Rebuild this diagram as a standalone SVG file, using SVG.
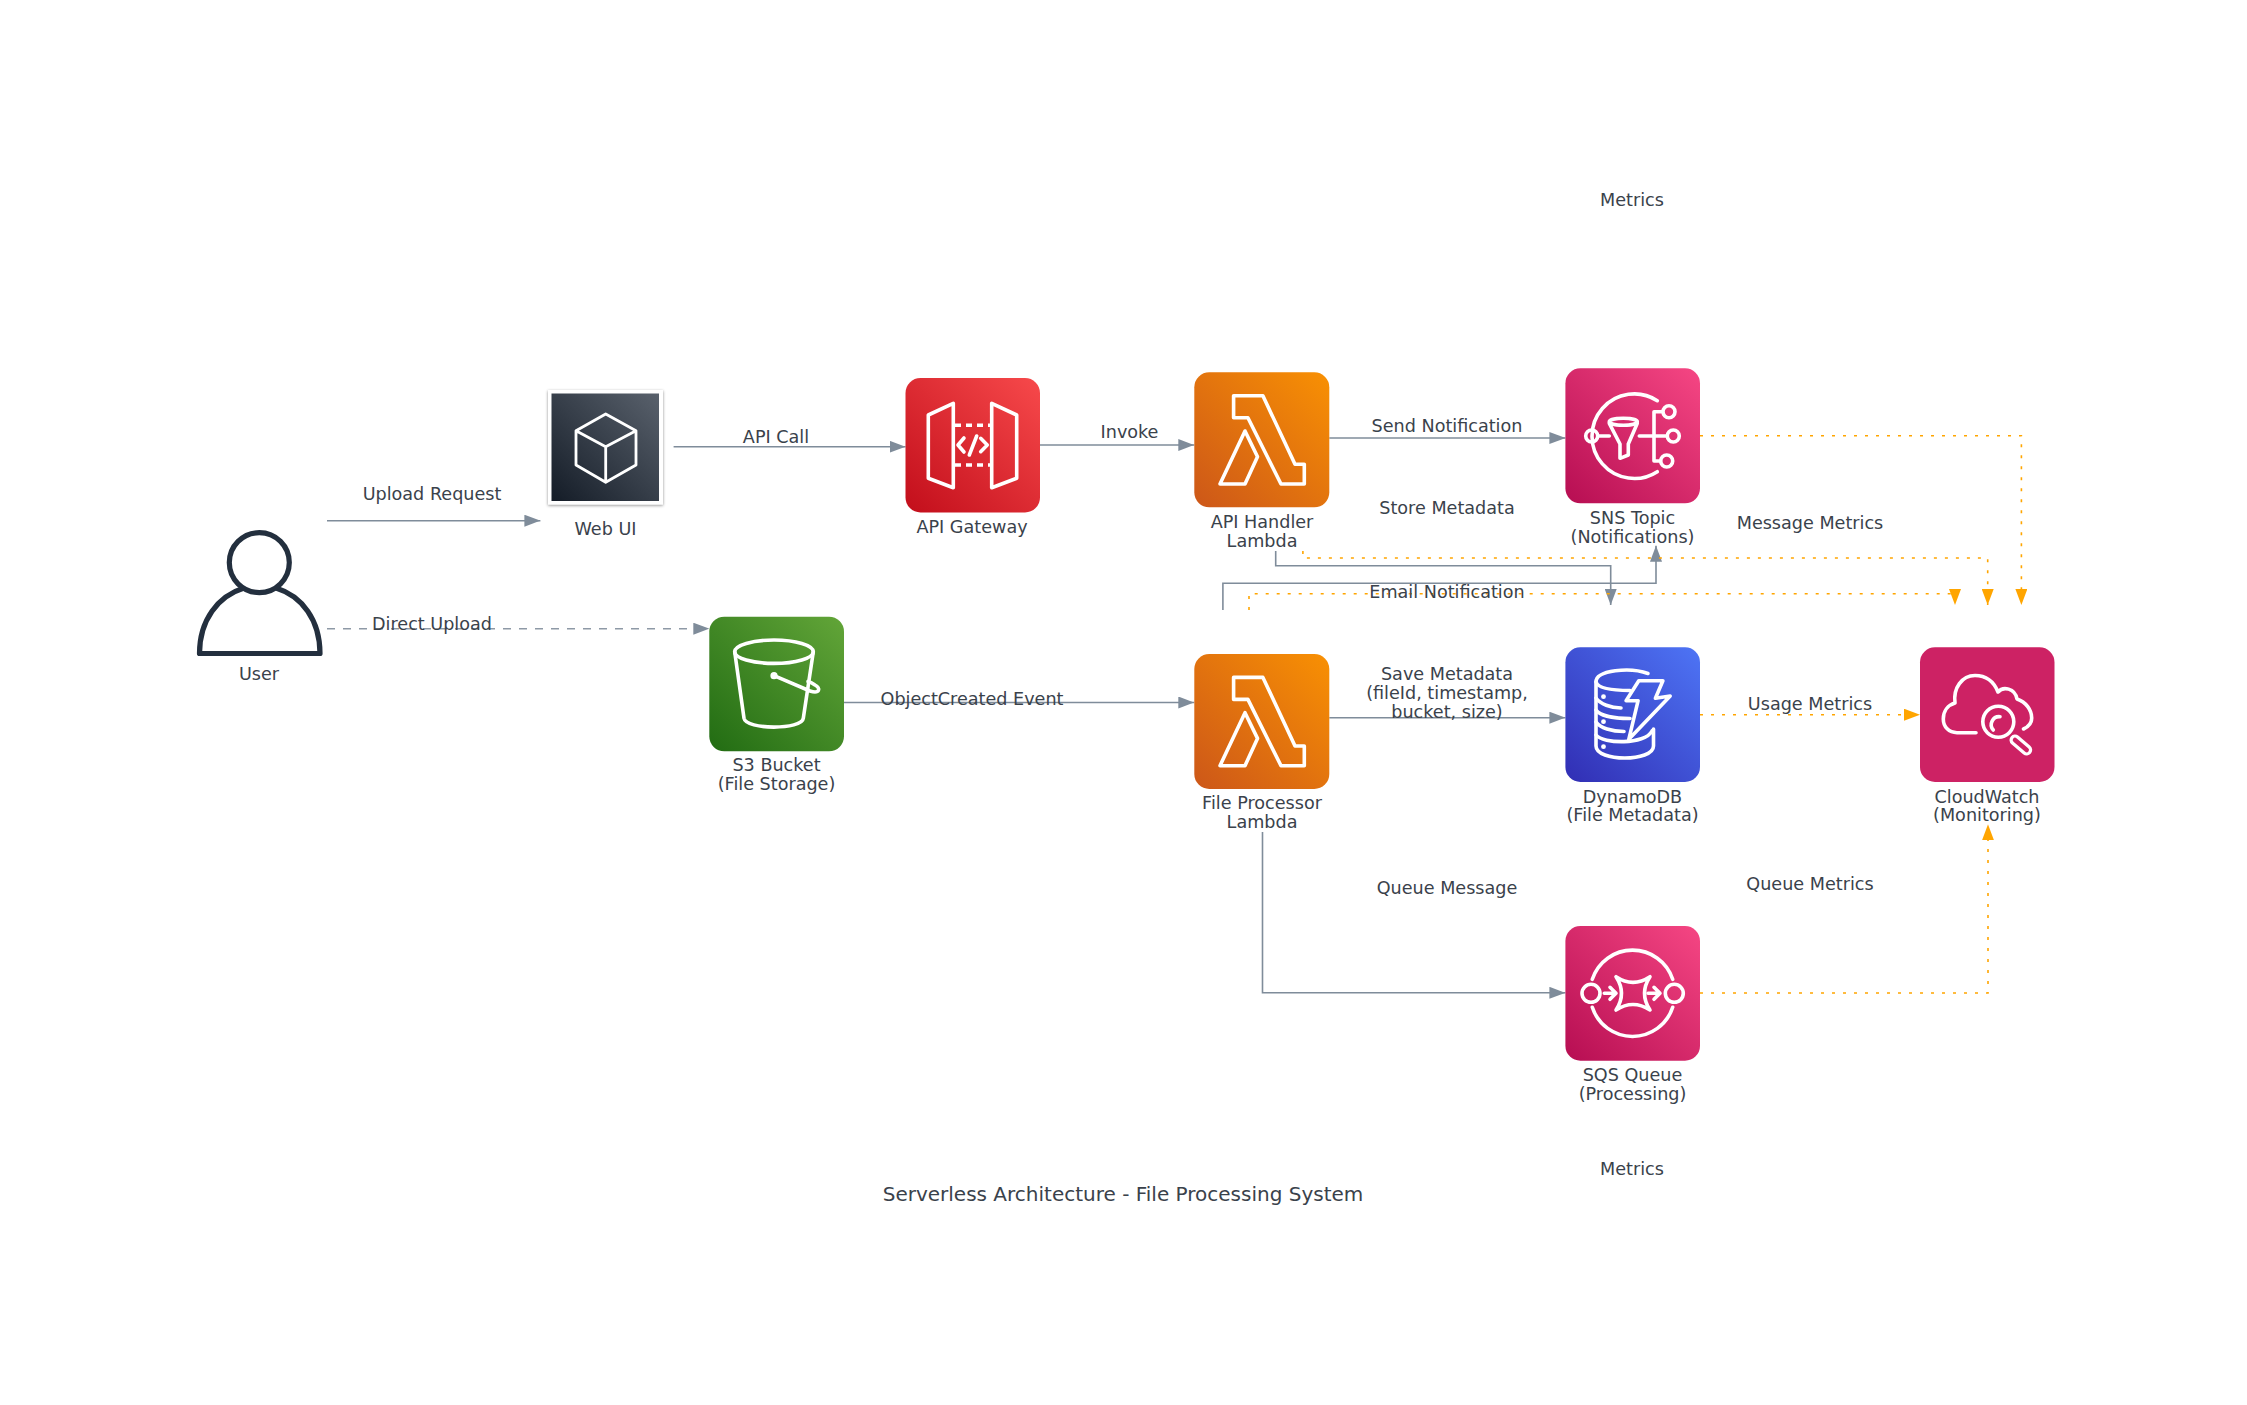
<svg xmlns="http://www.w3.org/2000/svg" xmlns:xlink="http://www.w3.org/1999/xlink" width="2247" height="1405" viewBox="0 0 2247 1405">
<style>
text{font-family:"DejaVu Sans",sans-serif;font-size:17.6px;fill:#3a424b;text-anchor:middle;transform:translateY(1px)}
text.title{font-size:20px;transform:none}
.i{fill:none;stroke:#fff;stroke-width:3.6;stroke-linejoin:round;stroke-linecap:round}
.c{fill:none;stroke:#7f8c9a;stroke-width:1.6;marker-end:url(#ag)}
.d{stroke-dasharray:8 8;stroke:#8e99a6}
.m{fill:none;stroke:#ffa500;stroke-width:1.6;stroke-dasharray:3 8;marker-end:url(#ao)}
</style>
<defs>
<linearGradient id="go" x1="-0.1" y1="1.1" x2="1.15" y2="-0.15"><stop offset="0" stop-color="#c8511b"/><stop offset="1" stop-color="#f90"/></linearGradient>
<linearGradient id="gr" x1="-0.1" y1="1.1" x2="1.15" y2="-0.15"><stop offset="0" stop-color="#bd0816"/><stop offset="1" stop-color="#ff5252"/></linearGradient>
<linearGradient id="gg" x1="-0.1" y1="1.1" x2="1.15" y2="-0.15"><stop offset="0" stop-color="#1b660f"/><stop offset="1" stop-color="#6cae3e"/></linearGradient>
<linearGradient id="gb" x1="-0.1" y1="1.1" x2="1.15" y2="-0.15"><stop offset="0" stop-color="#2e27ad"/><stop offset="1" stop-color="#527fff"/></linearGradient>
<linearGradient id="gp" x1="-0.1" y1="1.1" x2="1.15" y2="-0.15"><stop offset="0" stop-color="#b0084d"/><stop offset="1" stop-color="#ff4f8b"/></linearGradient>
<linearGradient id="gd" x1="0" y1="1" x2="1" y2="0"><stop offset="0" stop-color="#141c27"/><stop offset="1" stop-color="#59616c"/></linearGradient>
<filter id="sh" x="-10%" y="-10%" width="120%" height="120%"><feDropShadow dx="0" dy="1" stdDeviation="1.5" flood-color="#000" flood-opacity="0.45"/></filter>
<marker id="ag" markerUnits="userSpaceOnUse" markerWidth="16" markerHeight="12" refX="16" refY="6" orient="auto"><path d="M0 0L16 6L0 12z" fill="#7f8c9a"/></marker>
<marker id="ao" markerUnits="userSpaceOnUse" markerWidth="16" markerHeight="12" refX="16" refY="6" orient="auto"><path d="M0 0L16 6L0 12z" fill="#ffa500"/></marker>
<g id="lambda-icon"><path class="i" d="M39.3 23.4H68.6L100.7 92H110V111.7H86.7L53.6 45.4H39.3z"/><path class="i" d="M50.7 58.7L63.2 84.4L50.7 111.7H25.7z"/></g>
</defs>
<rect width="2247" height="1405" fill="#fff"/>

<g id="connectors">
<path class="c" d="M327 520.7H540.4"/>
<path class="c d" d="M327 628.7H709.3"/>
<path class="c" d="M673.6 446.7H905.5"/>
<path class="c" d="M1040 445H1194.3"/>
<path class="c" d="M1329.3 438H1565.4"/>
<path class="c" d="M844 702.5H1194.3"/>
<path class="c" d="M1329.3 717.7H1565.4"/>
<path class="c" d="M1275.7 551V565.7H1610.7V605"/>
<path class="c" d="M1222.9 610V583.3H1656V545.7"/>
<path class="c" d="M1262.5 832V992.8H1565.4"/>
<path class="m" d="M1700 714.7H1920"/>
<path class="m" d="M1700 435.7H2021.4V605"/>
<path class="m" d="M1302.9 551V558H1987.7V605"/>
<path class="m" d="M1249 610V593.7H1955V605"/>
<path class="m" d="M1700 993H1988V824.3"/>
</g>

<g id="user" class="node">
<path d="M244 588C218 596 199.5 620 199.5 653.5H320C320 620 302 596 276 588" fill="none" stroke="#232f3e" stroke-width="5.2" stroke-linejoin="round"/>
<circle cx="259.3" cy="562.6" r="30" fill="none" stroke="#232f3e" stroke-width="5.2"/>
<text x="259" y="679">User</text>
</g>

<g id="web-ui" class="node">
<rect x="548" y="390" width="115" height="114.5" fill="#fff" filter="url(#sh)"/>
<rect x="551.5" y="393.5" width="107.5" height="107.5" fill="url(#gd)"/>
<path d="M605.7 414L636 430.7V465L605.7 482.3L576 465V430.7zM576 430.7L605.7 446.7L636 430.7M605.7 446.7V482.3" fill="none" stroke="#fff" stroke-width="2.8" stroke-linejoin="round"/>
<text x="605.5" y="534">Web UI</text>
</g>

<g id="api-gateway" class="node">
<rect x="905.5" y="378" width="134.5" height="134.5" rx="15" fill="url(#gr)"/>
<path class="i" d="M928.3 415L953.3 403.3V487.7L928.3 478.3zM991.7 403.3L1016.7 415V478.3L991.7 487.7z"/>
<path class="i" style="stroke-linecap:butt" stroke-dasharray="6 5" d="M955 425.3H990M955 465H990"/>
<path class="i" d="M964 438L958 445L964 452M980.7 438.3L987.3 445L980.7 451.7M976.7 436L969.3 455"/>
<text x="972" y="531.7">API Gateway</text>
</g>

<g id="api-handler" class="node">
<rect x="1194.3" y="372.3" width="135" height="135" rx="15" fill="url(#go)"/>
<use xlink:href="#lambda-icon" href="#lambda-icon" transform="translate(1194.3 372.3)"/>
<text x="1262" y="527">API Handler</text>
<text x="1262" y="546">Lambda</text>
</g>

<g id="sns" class="node">
<rect x="1565.4" y="368.3" width="134.6" height="135" rx="15" fill="url(#gp)"/>
<path class="i" d="M1657.3 400.7A42.3 42.3 0 1 0 1657.3 471.7"/>
<circle class="i" cx="1591.7" cy="436" r="6"/>
<path class="i" d="M1598 436H1609.3M1639.3 436H1667M1662 411.7H1654V461H1660.5"/>
<ellipse class="i" cx="1623.3" cy="421.7" rx="14" ry="3.5"/>
<path class="i" d="M1609.3 423.3L1620 444V458.3L1628.3 455V444L1637.3 423.3"/>
<circle class="i" cx="1669" cy="411.7" r="6"/>
<circle class="i" cx="1673.3" cy="436" r="6"/>
<circle class="i" cx="1666.7" cy="461" r="6"/>
<text x="1632.5" y="523.3">SNS Topic</text>
<text x="1632.5" y="541.7">(Notifications)</text>
</g>

<g id="s3" class="node">
<rect x="709.3" y="616.7" width="134.7" height="134.6" rx="15" fill="url(#gg)"/>
<ellipse class="i" cx="774" cy="651.7" rx="39.3" ry="11.7"/>
<path class="i" d="M734.7 651.7L744 718.3C746 730 802 730 803.3 718.3L813.3 651.7"/>
<circle cx="774" cy="675.7" r="3.6" fill="#fff"/>
<path class="i" d="M774 675.7L810 691C820 694 821 688 815 685C812 683 810 682 808 681.5"/>
<text x="776.5" y="770">S3 Bucket</text>
<text x="776.5" y="789">(File Storage)</text>
</g>

<g id="file-processor" class="node">
<rect x="1194.3" y="654" width="135" height="135" rx="15" fill="url(#go)"/>
<use xlink:href="#lambda-icon" href="#lambda-icon" transform="translate(1194.3 654)"/>
<text x="1262" y="808.3">File Processor</text>
<text x="1262" y="827.3">Lambda</text>
</g>

<g id="dynamodb" class="node">
<rect x="1565.4" y="647.3" width="134.6" height="134.7" rx="15" fill="url(#gb)"/>
<path class="i" d="M1648 673.5C1630 667 1596 670 1596 682V746C1596 762 1653.5 762 1653.5 746V729"/>
<path class="i" d="M1596 682C1598 688 1612 690.5 1630 690.5M1596 698C1600 704 1611 708 1621 708M1596 710C1600 716 1615 718.5 1630 718.5M1596 722C1600 728 1612 731.5 1624 731.5M1596 735C1603 744 1645 745 1652 731"/>
<circle cx="1603.5" cy="696.7" r="2.4" fill="#fff"/><circle cx="1603.5" cy="721.7" r="2.4" fill="#fff"/><circle cx="1603.5" cy="746.7" r="2.4" fill="#fff"/>
<path class="i" d="M1638.8 680.7H1662.9L1655.4 698.3L1670.2 696L1628.8 739.3L1638.1 700.7H1626.1z"/>
<text x="1632.5" y="801.7">DynamoDB</text>
<text x="1632.5" y="820">(File Metadata)</text>
</g>

<g id="cloudwatch" class="node">
<rect x="1920" y="647.3" width="134.5" height="134.7" rx="15" fill="#cd2264"/>
<path class="i" d="M1976 732.7H1957C1949 732.7 1943.3 727 1943.3 719C1943.3 711 1948 705 1955 703C1953 688 1962 675.5 1975 675.5C1986 675.5 1994 682 1998 692C2003 686 2015 688 2017 699C2026 702 2031.7 710 2031.7 718C2031.7 723 2028 727 2023.5 729"/>
<circle cx="1998.3" cy="721.7" r="15.5" fill="#cd2264" stroke="#fff" stroke-width="3.6"/>
<path class="i" d="M2000 716.7A8 8 0 0 0 1993.3 730"/>
<path d="M2015 740L2026.7 750" stroke="#fff" stroke-width="11" stroke-linecap="round"/>
<path d="M2015 740L2026.7 750" stroke="#cd2264" stroke-width="4.5" stroke-linecap="round"/>
<text x="1987" y="801.7">CloudWatch</text>
<text x="1987" y="820">(Monitoring)</text>
</g>

<g id="sqs" class="node">
<rect x="1565.4" y="926" width="134.6" height="134.7" rx="15" fill="url(#gp)"/>
<path class="i" d="M1592.3 979.3A42.3 42.3 0 0 1 1672.7 979.3M1592.3 1007.3A42.3 42.3 0 0 0 1672.7 1007.3"/>
<circle class="i" cx="1591" cy="993.3" r="9"/>
<circle class="i" cx="1674.3" cy="993.3" r="9"/>
<path class="i" d="M1604.3 993.3H1616M1610 987.3L1616 993.3L1610 999.3M1648 993.3H1660M1654 987.3L1660 993.3L1654 999.3"/>
<path class="i" d="M1616 976.7Q1633 988 1650 976.7Q1639 993.3 1650 1010Q1633 999 1616 1010Q1627 993.3 1616 976.7z"/>
<text x="1632.5" y="1080">SQS Queue</text>
<text x="1632.5" y="1099">(Processing)</text>
</g>

<g id="labels">
<text x="432" y="499">Upload Request</text>
<text x="432" y="629">Direct Upload</text>
<text x="776" y="441.7">API Call</text>
<text x="1129.5" y="436.7">Invoke</text>
<text x="1447" y="431">Send Notification</text>
<text x="1447" y="513.3">Store Metadata</text>
<text x="1447" y="596.7">Email Notification</text>
<text x="972" y="704">ObjectCreated Event</text>
<text x="1447" y="679.3">Save Metadata</text>
<text x="1447" y="698.3">(fileId, timestamp,</text>
<text x="1447" y="716.7">bucket, size)</text>
<text x="1447" y="893">Queue Message</text>
<text x="1810" y="528.3">Message Metrics</text>
<text x="1810" y="709.3">Usage Metrics</text>
<text x="1810" y="889">Queue Metrics</text>
<text x="1632" y="205">Metrics</text>
<text x="1632" y="1174">Metrics</text>
<text class="title" x="1123" y="1201">Serverless Architecture - File Processing System</text>
</g>
</svg>
